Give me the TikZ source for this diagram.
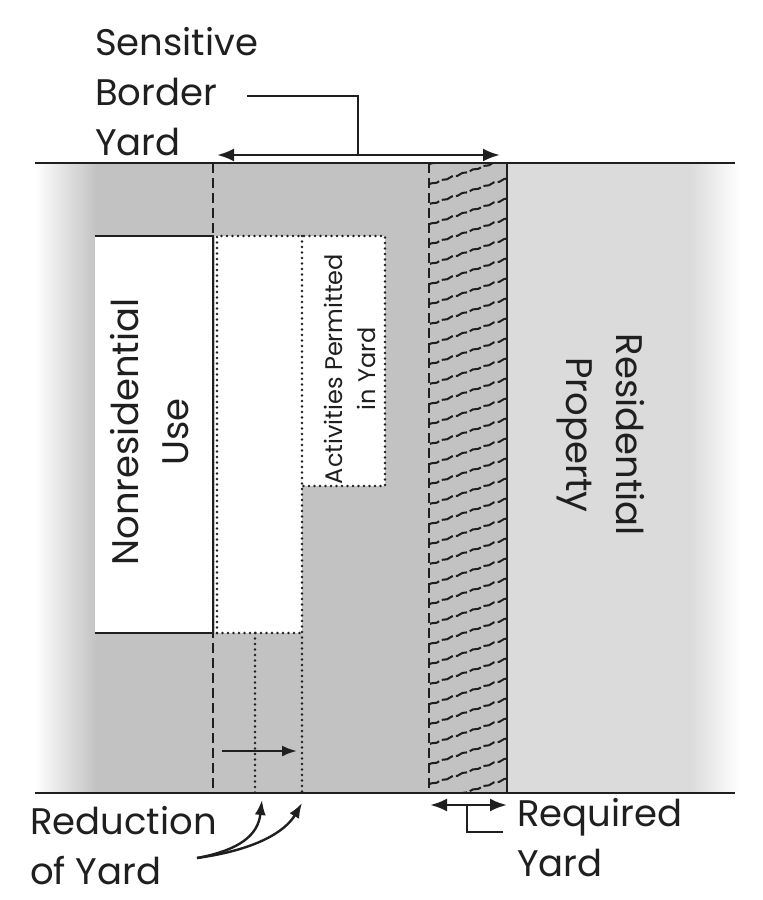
\documentclass[tikz,border=0pt]{standalone}
\usepackage{fontspec}
\setmainfont{Poppins}
\usetikzlibrary{arrows.meta}
\usetikzlibrary{decorations.pathmorphing}

\definecolor{yardgray}{gray}{0.76}
\definecolor{propgray}{gray}{0.86}
\definecolor{inkgray}{gray}{0.12}
\newcommand\lblfont{\fontsize{37}{50}\selectfont}
\newcommand\smlfont{\fontsize{24}{33}\selectfont}

\tikzset{
  edgeline/.style={draw=inkgray,line width=2.5pt},
  dashline/.style={draw=inkgray,line width=2.4pt,dash pattern=on 10pt off 5pt},
  dotline/.style={draw=inkgray,line width=2.8pt,line cap=round,dash pattern=on 0pt off 5.5pt},
  hatchline/.style={draw=inkgray,line width=2pt,dash pattern=on 12pt off 3pt,
    decorate,decoration={snake,amplitude=0.6pt,segment length=11pt}},
  dimarrow/.style={draw=inkgray,line width=2.8pt,{Latex[length=17pt,width=13pt]}-{Latex[length=17pt,width=13pt]}},
  onearrow/.style={draw=inkgray,line width=2.4pt,-{Latex[length=15pt,width=11pt]}},
  lbl/.style={inner sep=0pt,font=\lblfont,text=inkgray}
}

\begin{document}
\begin{tikzpicture}[x=1pt,y=-1pt]
\useasboundingbox (0,0) rectangle (763,900);

% ground
\fill[yardgray] (97,163) rectangle (507,793);
\fill[propgray] (507,163) rectangle (690,793);
\shade[left color=white,right color=yardgray] (35,163) rectangle (97,793);
\shade[left color=propgray,right color=white] (690,163) rectangle (740,793);

% nonresidential building and permitted area
\fill[white] (95,236) rectangle (213,633);
\fill[white] (215,236) rectangle (302,633);
\fill[white] (302,236) rectangle (385,486);
\draw[edgeline] (95,236) -- (213,236) -- (213,633) -- (95,633);
\draw[dotline] (217,633) -- (217,236) -- (385,236) -- (385,486) -- (302,486);
\draw[dotline] (217,633) -- (302,633);
\draw[dotline] (302,236) -- (302,793);
\draw[dotline] (255,633) -- (255,793);

% required yard (hatched)
\begin{scope}
\clip (430,163) rectangle (507,793);
\foreach \y in {165,185,...,830}
  \draw[hatchline] (428,\y) -- (509,\y-27);
\end{scope}
\draw[dashline] (429,163) -- (429,793);
\draw[edgeline] (507,163) -- (507,793);
\draw[dashline] (213,163) -- (213,793);

% property edges
\draw[edgeline] (35,163) -- (735,163);
\draw[edgeline] (35,793) -- (735,793);

% labels inside
\node[lbl,rotate=90,align=center] (nonres) at (150,432) {Nonresidential\\Use};
\node[lbl,rotate=90,align=center,font=\smlfont] (permit) at (350,369) {Activities Permitted\\in Yard};
\node[lbl,rotate=-90,align=center] (resid) at (601,435) {Residential\\Property};

% sensitive border yard
\node[lbl,anchor=north west,align=left] (sby) at (95,27) {Sensitive\\Border\\Yard};
\coordinate (sbyL) at (217,155);
\coordinate (sbyR) at (500,155);
\coordinate (sbyM) at (358,155);
\draw[dimarrow] (sbyL) -- (sbyR);
\draw[edgeline] (247,96) -| (sbyM);

% reduction of yard
\coordinate (redA) at (222,751);
\coordinate (redB) at (297,751);
\draw[onearrow] (redA) -- (redB);
\node[lbl,anchor=north west,align=left] (red) at (30,806) {Reduction\\of Yard};
\coordinate (redS) at (197,858);
\coordinate (redT1) at (262,800);
\coordinate (redT2) at (302,803);
\draw[onearrow] (redS) .. controls (240,850) and (258,835) .. (redT1);
\draw[onearrow] (redS) .. controls (255,850) and (285,832) .. (redT2);

% required yard
\coordinate (reqL) at (430,805);
\coordinate (reqR) at (507,805);
\draw[dimarrow] (reqL) -- (reqR);
\draw[edgeline] (467,805) |- (503,832);
\node[lbl,anchor=north west,align=left] (req) at (517,798) {Required\\Yard};
\end{tikzpicture}
\end{document}
